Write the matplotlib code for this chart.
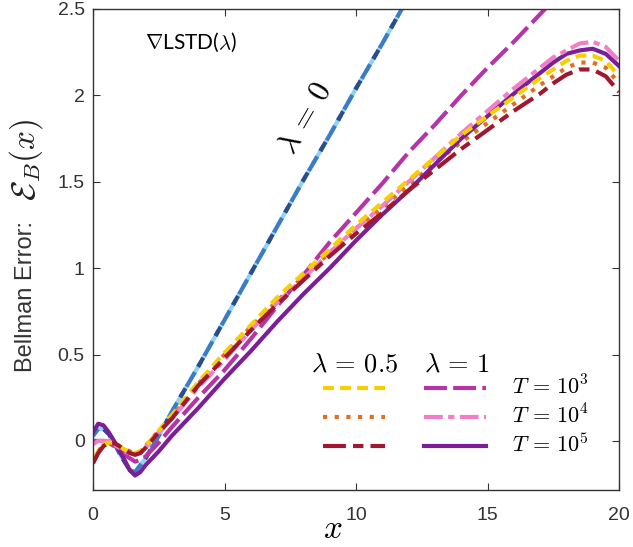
import numpy as np
import matplotlib
matplotlib.use("Agg")
import matplotlib.pyplot as plt
from matplotlib.lines import Line2D

plt.rcParams['font.family'] = ['Liberation Sans', 'DejaVu Sans']
plt.rcParams['mathtext.fontset'] = 'cm'

# ---------------- data ----------------
x = [0, 0.2, 0.4, 0.6, 0.8, 1.0, 1.2, 1.4, 1.6, 1.8, 2.0, 2.5, 3, 4, 5, 6, 7, 8, 9, 10,
     11, 12, 13, 14, 15, 16, 17, 17.5, 18, 18.5, 19, 19.5, 20]

# lambda = 0.5
l05_T3 = [-0.11, -0.06, -0.02, -0.01, -0.01, -0.03, -0.05, -0.06, -0.07, -0.06, -0.03, 0.06, 0.15,
          0.34, 0.51, 0.67, 0.83, 0.97, 1.11, 1.25, 1.38, 1.51, 1.64, 1.77, 1.88, 1.99, 2.10, 2.15,
          2.20, 2.23, 2.23, 2.20, 2.11]
l05_T4 = [-0.12, -0.06, -0.02, -0.01, -0.01, -0.03, -0.05, -0.06, -0.08, -0.06, -0.03, 0.06, 0.14,
          0.33, 0.50, 0.66, 0.81, 0.95, 1.09, 1.23, 1.35, 1.48, 1.61, 1.73, 1.84, 1.95, 2.06, 2.11,
          2.16, 2.19, 2.19, 2.16, 2.07]
l05_T5 = [-0.13, -0.07, -0.03, -0.01, -0.01, -0.03, -0.05, -0.07, -0.08, -0.07, -0.04, 0.05, 0.13,
          0.32, 0.48, 0.64, 0.79, 0.93, 1.07, 1.20, 1.32, 1.45, 1.57, 1.69, 1.80, 1.91, 2.01, 2.07,
          2.12, 2.15, 2.15, 2.11, 2.02]

# lambda = 1
l1_T3 = [0.00, 0.00, 0.00, -0.01, -0.03, -0.05, -0.08, -0.10, -0.12, -0.11, -0.09, -0.01, 0.08,
         0.25, 0.41, 0.59, 0.78, 0.96, 1.15, 1.32, 1.49, 1.67, 1.83, 2.00, 2.16, 2.31, 2.47, 2.55,
         2.63, 2.71, 2.79, 2.87, 2.94]
l1_T4 = [-0.02, 0.00, 0.00, 0.00, -0.02, -0.04, -0.06, -0.07, -0.08, -0.07, -0.04, 0.05, 0.13,
         0.31, 0.47, 0.64, 0.80, 0.94, 1.09, 1.23, 1.36, 1.50, 1.64, 1.78, 1.91, 2.04, 2.16, 2.22,
         2.26, 2.30, 2.31, 2.28, 2.20]
l1_T5 = [0.05, 0.10, 0.09, 0.05, 0.00, -0.06, -0.11, -0.17, -0.20, -0.18, -0.14, -0.06, 0.03,
         0.19, 0.36, 0.52, 0.69, 0.85, 1.00, 1.16, 1.31, 1.45, 1.60, 1.75, 1.88, 2.01, 2.13, 2.19,
         2.24, 2.26, 2.27, 2.24, 2.17]

# lambda = 0
x0 = [0, 0.2, 0.4, 0.6, 0.8, 1.0, 1.2, 1.4, 1.6, 1.8, 2.0, 2.5, 3, 4, 5, 6, 7, 8, 9, 10, 11, 12, 12.5]
l0 = [0.03, 0.07, 0.07, 0.04, -0.01, -0.07, -0.12, -0.17, -0.18, -0.14, -0.10, 0.03, 0.17,
      0.43, 0.70, 0.97, 1.24, 1.51, 1.77, 2.04, 2.30, 2.57, 2.70]

xticks = [0, 5, 10, 15, 20]
yticks = [0, 0.5, 1, 1.5, 2, 2.5]
yticklabels = ['0', '0.5', '1', '1.5', '2', '2.5']
T_labels = [r'$T\,=\,10^3$', r'$T\,=\,10^4$', r'$T\,=\,10^5$']

# ---------------- styles ----------------
c_yel, c_org, c_red = '#F5D000', '#E07020', '#A01830'
c_mag, c_pink, c_pur = '#B535A5', '#F07EC8', '#7A1F96'
c_b1, c_b2, c_b3 = '#8FD3F2', '#3A7CC8', '#2A4E8C'
lw = 3.0
st_yel = (0, (2.6, 1.5))
st_org = (0, (1.0, 1.8))
st_red = (0, (5.5, 1.7, 2.5, 1.7))
st_mag = (0, (5.5, 1.5))
st_pink = (0, (4.5, 1.3, 1.5, 1.3))

fig = plt.figure(figsize=(6.33, 5.47), dpi=100)
ax = fig.add_axes([93/633, 57/547, 526/633, 481/547])

# lambda = 0 (three overlapping blue dash-dot lines)
ax.plot(x0, l0, color=c_b1, lw=lw, linestyle=(0, (4, 1.5, 1.5, 1.5)))
ax.plot(x0, l0, color=c_b2, lw=lw, linestyle=(2, (4, 1.5, 1.5, 1.5)))
ax.plot(x0, l0, color=c_b3, lw=lw, linestyle=(5, (2.5, 6.0)))

ax.plot(x, l05_T4, color=c_org, lw=lw, linestyle=st_org)
ax.plot(x, l1_T3, color=c_mag, lw=lw, linestyle=st_mag)
ax.plot(x, l1_T5, color=c_pur, lw=lw, linestyle='-')
ax.plot(x, l1_T4, color=c_pink, lw=lw, linestyle=st_pink)
ax.plot(x, l05_T3, color=c_yel, lw=lw, linestyle=st_yel)
ax.plot(x, l05_T5, color=c_red, lw=lw, linestyle=st_red)

ax.set_xlim(0, 20)
ax.set_ylim(-0.284, 2.5)
ax.set_xticks(xticks)
ax.set_yticks(yticks)
ax.set_yticklabels(yticklabels)
ax.tick_params(direction='in', top=True, right=True, length=5, width=0.8,
               labelsize=14, labelcolor='#333333', color='#333333')
ax.tick_params(axis='x', pad=12)
ax.tick_params(axis='y', pad=6)
for s in ax.spines.values():
    s.set_color('#333333')
    s.set_linewidth(1.0)

fig.text(333/633, 1 - 529/547, r'$x$', ha='center', va='center', fontsize=24)

fig.text(26/633, 1 - 296/547, 'Bellman Error:', rotation=90, ha='center', va='center',
         fontsize=17, color='#333333')
fig.text(26/633, 1 - 160/547, r'$\mathcal{E}_B(x)$', rotation=90, ha='center', va='center',
         fontsize=24, color='#222222')

# annotations
def axfrac(px, py):
    return ((px - 93) / 526, (490 - py) / 481)

ax.text(*axfrac(145, 42), r'$\nabla$LSTD($\lambda$)', transform=ax.transAxes,
        fontsize=15, ha='left', va='center', family=['Lato', 'DejaVu Sans'])
ax.text(*axfrac(305, 118), r'$\lambda\,=\,0$', transform=ax.transAxes, rotation=60,
        fontsize=22, ha='center', va='center')

# custom legend
ax.text(*axfrac(355, 365), r'$\lambda\,=\,0.5$', transform=ax.transAxes, fontsize=19,
        ha='center', va='center')
ax.text(*axfrac(457, 365), r'$\lambda\,=\,1$', transform=ax.transAxes, fontsize=19,
        ha='center', va='center')
rows = [388, 417, 446]
col1 = [(c_yel, st_yel), (c_org, st_org), (c_red, st_red)]
col2 = [(c_mag, st_mag), (c_pink, st_pink), (c_pur, '-')]
for r, (ca, sa), (cb, sb), lab in zip(rows, col1, col2, T_labels):
    x1, y1 = axfrac(323, r)
    x2, _ = axfrac(385, r)
    ax.add_line(Line2D([x1, x2], [y1, y1], transform=ax.transAxes, color=ca, lw=lw, linestyle=sa))
    x1, _ = axfrac(424, r)
    x2, _ = axfrac(486, r)
    ax.add_line(Line2D([x1, x2], [y1, y1], transform=ax.transAxes, color=cb, lw=lw, linestyle=sb))
    tx, ty = axfrac(512, r - 1)
    ax.text(tx, ty, lab, transform=ax.transAxes, fontsize=16, ha='left', va='center')

fig.savefig('out.png', dpi=100)
